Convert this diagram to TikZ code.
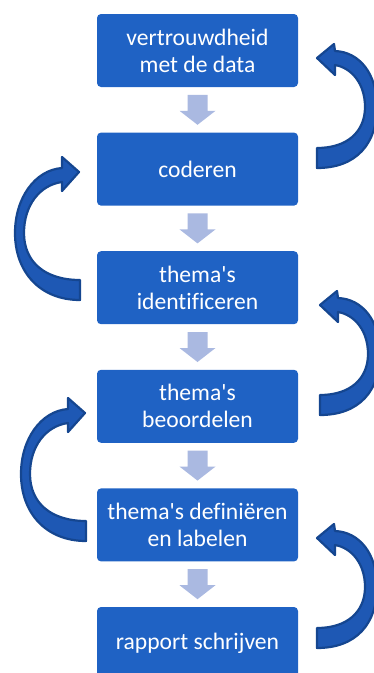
\documentclass[tikz,border=0pt]{standalone}
\usepackage{fontspec}
\setmainfont{Carlito}[Ligatures={TeXOff,NoCommon}]
\usetikzlibrary{calc}
\definecolor{boxblue}{RGB}{31,98,196}
\definecolor{downblue}{RGB}{170,185,225}
\definecolor{arcfill}{RGB}{30,88,180}
\definecolor{arcline}{RGB}{21,70,144}
\begin{document}
\begin{tikzpicture}[x=1pt,y=-1pt,
  stage/.style={fill=boxblue, rounded corners=4pt, minimum width=201pt,
    minimum height=73pt, text=white, align=center, inner sep=0pt,
    font=\fontsize{23.6}{27}\selectfont},
  arcstyle/.style={fill=arcfill, draw=arcline, line width=2.2pt, line join=round},
  downarr/.pic={\fill[downblue] (-10,-15) -- (10,-15) -- (10,1) -- (18,1)
      -- (0,15) -- (-18,1) -- (-10,1) -- cycle;},
  rarc/.pic={\path[arcstyle] (0,60) .. controls (40,60) and (60,35) .. (60,-1)
      .. controls (60,-35) and (42,-56) .. (18,-57) -- (17,-64) -- (0,-50)
      -- (18,-33) -- (18,-43) .. controls (35,-40) and (48,-24) .. (48,-1)
      .. controls (48,24) and (30,40) .. (0,40) -- cycle;},
  larc/.pic={\path[arcstyle] (0,60) .. controls (-40,60) and (-65,32) .. (-65,-7)
      .. controls (-65,-42) and (-45,-70) .. (-18,-72) -- (-18,-83) -- (-1,-68)
      -- (-18,-49) -- (-18,-58) .. controls (-40,-55) and (-56,-35) .. (-56,-7)
      .. controls (-56,22) and (-35,40) .. (0,40) -- cycle;}]
\useasboundingbox (0,0) rectangle (373,673);
\node[stage] (b1) at (197.5,50.5) {vertrouwdheid\\met de data};
\node[stage] (b2) at (197.5,169.1) {coderen};
\node[stage] (b3) at (197.5,287.7) {thema's\\identificeren};
\node[stage] (b4) at (197.5,406.3) {thema's\\beoordelen};
\node[stage] (b5) at (197.5,524.9) {thema's definiëren\\en labelen};
\node[stage] (b6) at (197.5,643.5) {rapport schrijven};
\pic at ($(b1.south)!0.5!(b2.north)$) {downarr};
\pic at ($(b2.south)!0.5!(b3.north)$) {downarr};
\pic at ($(b3.south)!0.5!(b4.north)$) {downarr};
\pic at ($(b4.south)!0.5!(b5.north)$) {downarr};
\pic at ($(b5.south)!0.5!(b6.north)$) {downarr};
\pic at (317,108) {rarc};
\pic at (320,355) {rarc};
\pic at (317,588) {rarc};
\pic at (80,240) {larc};
\pic at (86,481) {larc};
\end{tikzpicture}
\end{document}
